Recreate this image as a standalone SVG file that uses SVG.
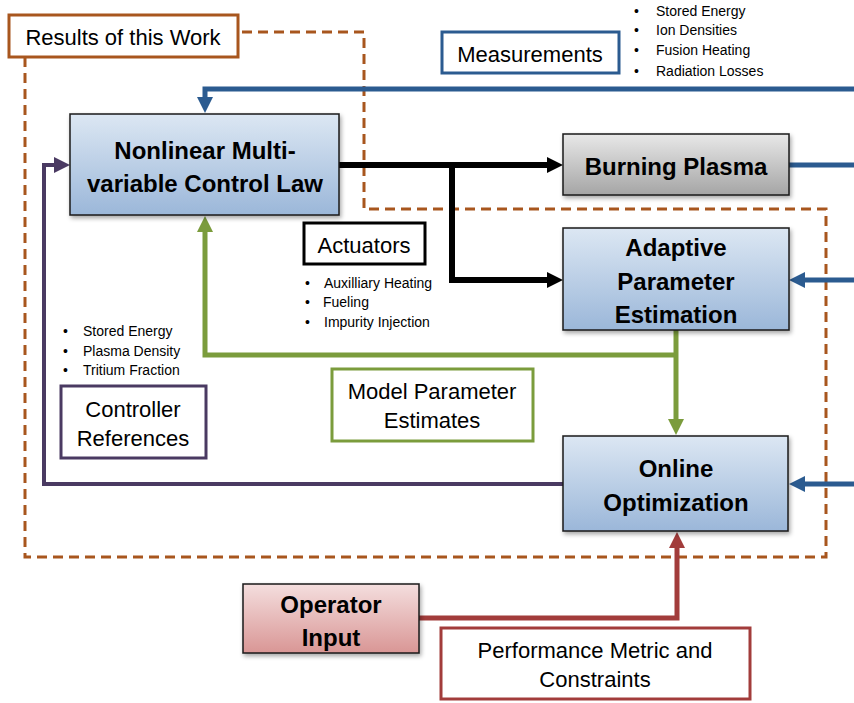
<svg xmlns="http://www.w3.org/2000/svg" width="854" height="703" viewBox="0 0 854 703">
<defs>
<linearGradient id="gBlue" x1="0" y1="0" x2="0" y2="1"><stop offset="0" stop-color="#dce7f3"/><stop offset="1" stop-color="#9bb7d9"/></linearGradient>
<linearGradient id="gGray" x1="0" y1="0" x2="0" y2="1"><stop offset="0" stop-color="#e8e8e8"/><stop offset="1" stop-color="#a5a5a5"/></linearGradient>
<linearGradient id="gPink" x1="0" y1="0" x2="0" y2="1"><stop offset="0" stop-color="#f4dede"/><stop offset="1" stop-color="#d99695"/></linearGradient>
<filter id="sh" x="-10%" y="-10%" width="130%" height="140%"><feDropShadow dx="1.5" dy="2.5" stdDeviation="2" flood-color="#000" flood-opacity="0.35"/></filter>
<marker id="aBlack" markerUnits="userSpaceOnUse" markerWidth="16" markerHeight="16" viewBox="0 0 16 16" refX="6" refY="8" orient="auto"><path d="M0,0 L16,8 L0,16 z" fill="#000"/></marker>
<marker id="aBlue" markerUnits="userSpaceOnUse" markerWidth="16" markerHeight="16" viewBox="0 0 16 16" refX="6" refY="8" orient="auto"><path d="M0,0 L16,8 L0,16 z" fill="#2b5b90"/></marker>
<marker id="aGreen" markerUnits="userSpaceOnUse" markerWidth="16" markerHeight="16" viewBox="0 0 16 16" refX="6" refY="8" orient="auto"><path d="M0,0 L16,8 L0,16 z" fill="#7b9c3c"/></marker>
<marker id="aPurple" markerUnits="userSpaceOnUse" markerWidth="16" markerHeight="16" viewBox="0 0 16 16" refX="6" refY="8" orient="auto"><path d="M0,0 L16,8 L0,16 z" fill="#4a3a62"/></marker>
<marker id="aRed" markerUnits="userSpaceOnUse" markerWidth="16" markerHeight="16" viewBox="0 0 16 16" refX="6" refY="8" orient="auto"><path d="M0,0 L16,8 L0,16 z" fill="#a23c3b"/></marker>
</defs>
<style>
.node{stroke:#1a1a1a;stroke-width:1.5}
.nt{font-family:"Liberation Sans",Arial,sans-serif;font-weight:bold;font-size:24px;fill:#000;text-anchor:middle}
.lt{font-family:"Liberation Sans",Arial,sans-serif;font-size:22px;fill:#000;text-anchor:middle}
.bt{font-family:"Liberation Sans",Arial,sans-serif;font-size:14px;fill:#000}
.lab{fill:#fff;stroke-width:3}
.c{fill:none;stroke-linejoin:miter}
</style>
<rect width="854" height="703" fill="#fff"/>

<g id="results-boundary">
<path d="M242,32 H364 V209 H826 V557 H25 V58" fill="none" stroke="#a8561e" stroke-width="3" stroke-dasharray="10,6"/>
</g>

<g id="connectors">
<path class="c" d="M854,89 H205 V103" stroke="#2b5b90" stroke-width="5" marker-end="url(#aBlue)"/>
<path class="c" d="M339,165 H553" stroke="#000" stroke-width="6" marker-end="url(#aBlack)"/>
<path class="c" d="M452,165 V280 H553" stroke="#000" stroke-width="6" marker-end="url(#aBlack)"/>
<path class="c" d="M789,165 H854" stroke="#2b5b90" stroke-width="5"/>
<path class="c" d="M854,280 H799" stroke="#2b5b90" stroke-width="5" marker-end="url(#aBlue)"/>
<path class="c" d="M854,484 H799" stroke="#2b5b90" stroke-width="5" marker-end="url(#aBlue)"/>
<path class="c" d="M676,330 V425" stroke="#7b9c3c" stroke-width="5" marker-end="url(#aGreen)"/>
<path class="c" d="M676,355 H205 V226" stroke="#7b9c3c" stroke-width="5" marker-end="url(#aGreen)"/>
<path class="c" d="M563,484 H44 V165 H60" stroke="#4a3a62" stroke-width="4" marker-end="url(#aPurple)"/>
<path class="c" d="M419,618 H677 V542" stroke="#a23c3b" stroke-width="5" marker-end="url(#aRed)"/>
</g>

<g id="control-law">
<rect class="node" x="70" y="114" width="269" height="101" fill="url(#gBlue)" filter="url(#sh)"/>
<text class="nt" x="205" y="159">Nonlinear Multi-</text>
<text class="nt" x="205" y="192">variable Control Law</text>
</g>

<g id="burning-plasma">
<rect class="node" x="563" y="134" width="226" height="61" fill="url(#gGray)" filter="url(#sh)"/>
<text class="nt" x="676" y="175">Burning Plasma</text>
</g>

<g id="adaptive-estimation">
<rect class="node" x="563" y="228" width="226" height="102" fill="url(#gBlue)" filter="url(#sh)"/>
<text class="nt" x="676" y="256">Adaptive</text>
<text class="nt" x="676" y="290">Parameter</text>
<text class="nt" x="676" y="323">Estimation</text>
</g>

<g id="online-optimization">
<rect class="node" x="563" y="436" width="225" height="95" fill="url(#gBlue)" filter="url(#sh)"/>
<text class="nt" x="676" y="477">Online</text>
<text class="nt" x="676" y="511">Optimization</text>
</g>

<g id="operator-input">
<rect class="node" x="243" y="584" width="176" height="69" fill="url(#gPink)" filter="url(#sh)"/>
<text class="nt" x="331" y="613">Operator</text>
<text class="nt" x="331" y="646">Input</text>
</g>

<g id="label-results">
<rect class="lab" x="9" y="15" width="229" height="42" stroke="#a8561e"/>
<text class="lt" x="123" y="45">Results of this Work</text>
</g>

<g id="label-measurements">
<rect class="lab" x="442" y="32" width="177" height="41" stroke="#2b5b90"/>
<text class="lt" x="530" y="62">Measurements</text>
<text class="bt" x="634" y="16">•</text><text class="bt" x="656" y="16">Stored Energy</text>
<text class="bt" x="634" y="35">•</text><text class="bt" x="656" y="35">Ion Densities</text>
<text class="bt" x="634" y="55">•</text><text class="bt" x="656" y="55">Fusion Heating</text>
<text class="bt" x="634" y="76">•</text><text class="bt" x="656" y="76">Radiation Losses</text>
</g>

<g id="label-actuators">
<rect class="lab" x="304" y="223" width="121" height="41" stroke="#000"/>
<text class="lt" x="364" y="253">Actuators</text>
<text class="bt" x="305" y="288">•</text><text class="bt" x="324" y="288">Auxilliary Heating</text>
<text class="bt" x="305" y="307">•</text><text class="bt" x="323" y="307">Fueling</text>
<text class="bt" x="305" y="327">•</text><text class="bt" x="324" y="327">Impurity Injection</text>
</g>

<g id="label-controller-references">
<text class="bt" x="63" y="336">•</text><text class="bt" x="83" y="336">Stored Energy</text>
<text class="bt" x="63" y="356">•</text><text class="bt" x="83" y="356">Plasma Density</text>
<text class="bt" x="63" y="375">•</text><text class="bt" x="83" y="375">Tritium Fraction</text>
<rect class="lab" x="61" y="386" width="145" height="72" stroke="#4a3a62"/>
<text class="lt" x="133" y="417">Controller</text>
<text class="lt" x="133" y="446">References</text>
</g>

<g id="label-model-parameter-estimates">
<rect class="lab" x="332" y="369" width="201" height="72" stroke="#7b9c3c" stroke-width="2.5"/>
<text class="lt" x="432" y="399">Model Parameter</text>
<text class="lt" x="432" y="428">Estimates</text>
</g>

<g id="label-performance">
<rect class="lab" x="441" y="628" width="309" height="71" stroke="#a23c3b" stroke-width="2.5"/>
<text class="lt" x="595" y="658">Performance Metric and</text>
<text class="lt" x="595" y="687">Constraints</text>
</g>
</svg>
